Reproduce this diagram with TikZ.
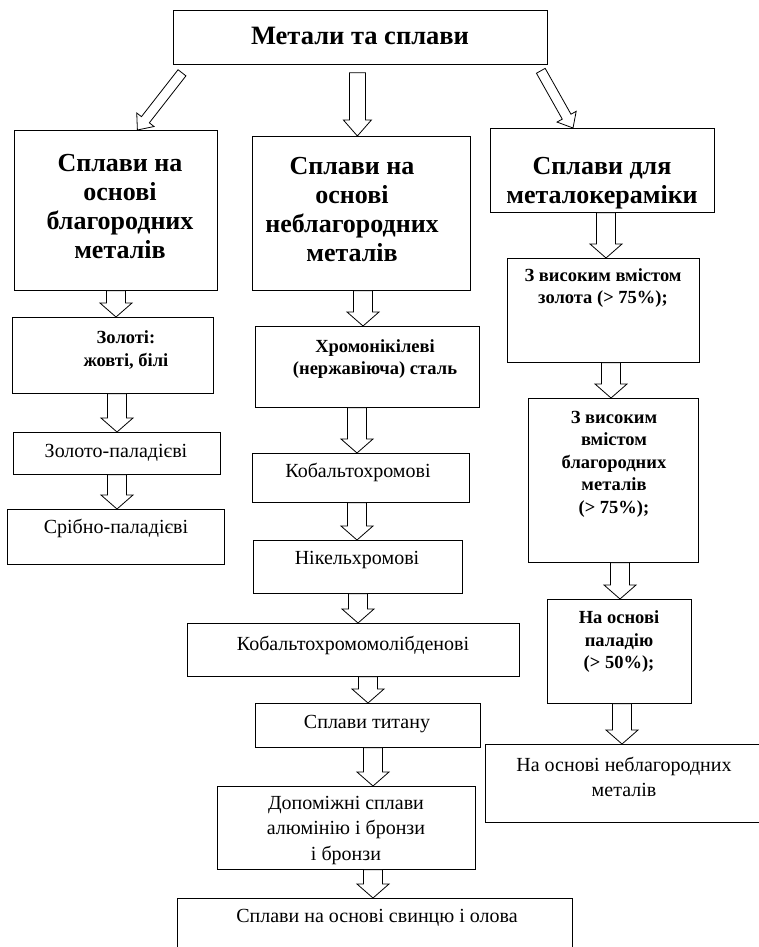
\documentclass[tikz,border=0pt]{standalone}
\usepackage{fontspec}
\setmainfont{Liberation Serif}
\usetikzlibrary{calc,positioning}

\tikzset{
  box/.style={draw, line width=0.8pt, inner sep=0pt, anchor=north west},
  hollow/.style={draw, line width=0.8pt, fill=white, line join=miter},
  titletxt/.style={font=\bfseries\fontsize{26.5}{30}\selectfont},
  headtxt/.style={font=\bfseries\fontsize{26}{29}\selectfont, align=center},
  boldtxt/.style={font=\bfseries\fontsize{18.5}{22.5}\selectfont, align=center},
  plaintxt/.style={font=\fontsize{20}{25.5}\selectfont, align=center},
}

% hollow block arrow: from, to, shaft half width, head half width, head length
\newcommand{\hollowarrow}[5]{%
  \coordinate (hb) at ($(#2)!#5!(#1)$);
  \draw[hollow] ($(#1)!#3!90:(#2)$) -- ($(hb)!#3!90:(#2)$) -- ($(hb)!#4!90:(#2)$)
    -- (#2) -- ($(hb)!#4!-90:(#2)$) -- ($(hb)!#3!-90:(#2)$) -- ($(#1)!#3!-90:(#2)$) -- cycle;}
% straight hollow arrow at x, from box to box
\newcommand{\downarrowbox}[3]{%
  \coordinate (as) at (#1,0 |- #2.south);
  \coordinate (ae) at (#1,0 |- #3.north);
  \hollowarrow{as}{ae}{9.5pt}{16pt}{14pt}}

\begin{document}
\begin{tikzpicture}[x=1pt, y=-1pt]
	\useasboundingbox (0,0) rectangle (759,947);

	% top box
	\node[box, minimum width=374pt, minimum height=54pt] (top) at (173,10) {};
	\node[titletxt] (title) at (360,36) {Метали та сплави};

	% three groups
	\node[box, minimum width=203pt, minimum height=160pt] (noble) at (14,130) {};
	\node[headtxt] (noblet) at (120,207) {Сплави на\\основі\\благородних\\металів};
	\node[box, minimum width=218pt, minimum height=154pt] (base) at (252,136) {};
	\node[headtxt] (baset) at (352,210) {Сплави на\\основі\\неблагородних\\металів};
	\node[box, minimum width=224pt, minimum height=84pt] (ceram) at (490,128) {};
	\node[headtxt] (ceramt) at (602,183) {Сплави для\\металокераміки};

	% arrows from top box
	\coordinate (t1) at ($(top.south west)+(9,8)$);
	\coordinate (t2) at ($(top.south)+(-3,8)$);
	\coordinate (t3) at ($(top.south east)+(-7,6)$);
	\coordinate (e1) at ($(noble.north)+(21.5,0)$);
	\coordinate (e2) at (t2 |- base.north);
	\coordinate (e3) at ($(ceram.north west)+(83,0)$);
	\hollowarrow{t1}{e1}{5pt}{11pt}{13pt}
	\hollowarrow{t2}{e2}{8pt}{14pt}{16pt}
	\hollowarrow{t3}{e3}{5pt}{11pt}{13pt}

	% left column
	\node[box, minimum width=201pt, minimum height=76pt] (gold) at (12,317) {};
	\node[boldtxt] (goldt) at (126,350) {Золоті:\\жовті, білі};
	\node[box, minimum width=207pt, minimum height=42pt] (goldpd) at (13,432) {};
	\node[plaintxt] (goldpdt) at (116,453) {Золото-паладієві};
	\node[box, minimum width=217pt, minimum height=55pt] (silpd) at (7,509) {};
	\node[plaintxt] (silpdt) at (116,528) {Срібно-паладієві};
	\downarrowbox{116}{noble}{gold}
	\downarrowbox{117}{gold}{goldpd}
	\downarrowbox{117}{goldpd}{silpd}

	% middle column
	\node[box, minimum width=224pt, minimum height=81pt] (crni) at (255,326) {};
	\node[boldtxt] (crnit) at (375,359) {Хромонікілеві\\(нержавіюча) сталь};
	\node[box, minimum width=217pt, minimum height=49pt] (cocr) at (252,453) {};
	\node[plaintxt] (cocrt) at (358,472) {Кобальтохромові};
	\node[box, minimum width=209pt, minimum height=53pt] (nicr) at (253,540) {};
	\node[plaintxt] (nicrt) at (357,560) {Нікельхромові};
	\node[box, minimum width=332pt, minimum height=53pt] (cocrmo) at (187,623) {};
	\node[plaintxt] (cocrmot) at (353,645) {Кобальтохромомолібденові};
	\node[box, minimum width=225pt, minimum height=44pt] (ti) at (255,703) {};
	\node[plaintxt] (tit) at (367,724) {Сплави титану};
	\node[box, minimum width=258pt, minimum height=83pt] (albr) at (217,786) {};
	\node[plaintxt] (albrt) at (346,830) {Допоміжні сплави\\алюмінію і бронзи\\і бронзи};
	\node[box, minimum width=395pt, minimum height=52pt] (pbsn) at (177,898) {};
	\node[plaintxt] (pbsnt) at (377,918) {Сплави на основі свинцю і олова};
	\downarrowbox{363}{base}{crni}
	\downarrowbox{357}{crni}{cocr}
	\downarrowbox{357}{cocr}{nicr}
	\downarrowbox{358}{nicr}{cocrmo}
	\downarrowbox{368}{cocrmo}{ti}
	\downarrowbox{373}{ti}{albr}
	\downarrowbox{373}{albr}{pbsn}

	% right column
	\node[box, minimum width=192pt, minimum height=104pt] (hgold) at (507,258) {};
	\node[boldtxt] (hgoldt) at (603,288) {З високим вмістом\\золота (> 75\%);};
	\node[box, minimum width=170pt, minimum height=164pt] (hnoble) at (528,398) {};
	\node[boldtxt] (hnoblet) at (614,464) {З високим\\вмістом\\благородних\\металів\\(> 75\%);};
	\node[box, minimum width=144pt, minimum height=104pt] (pd) at (547,599) {};
	\node[boldtxt] (pdt) at (619,642) {На основі\\паладію\\(> 50\%);};
	\node[box, minimum width=273.5pt, minimum height=78pt] (nonnoble) at (485,744) {};
	\node[plaintxt] (nonnoblet) at (624,777) {На основі неблагородних\\металів};
	\downarrowbox{606}{ceram}{hgold}
	\downarrowbox{611}{hgold}{hnoble}
	\downarrowbox{620}{hnoble}{pd}
	\downarrowbox{622}{pd}{nonnoble}
\end{tikzpicture}
\end{document}
